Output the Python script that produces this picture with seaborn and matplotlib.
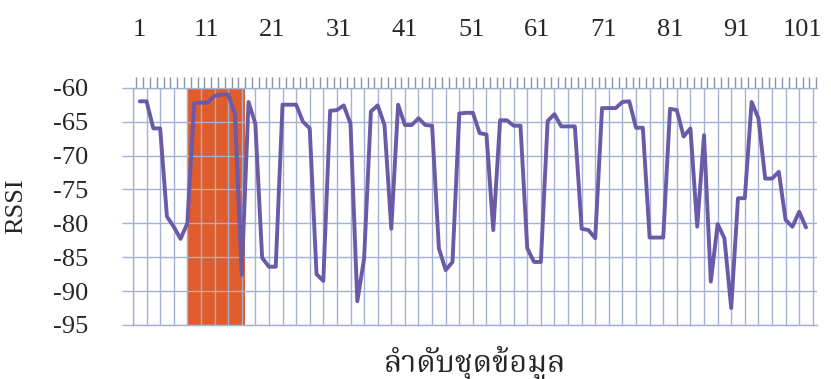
import matplotlib as mpl

mpl.use('Agg')
import numpy as np
import pandas as pd
import matplotlib.pyplot as plt
import seaborn as sns
from matplotlib import font_manager

# RSSI, one value per sample (1..99)
rssi = [-62, -62, -66, -66, -79, -80.5, -82.3, -80, -62.3, -62.2,
        -62.2, -61.2, -61, -61, -63.8, -87.6, -62.1, -65.3, -85.1, -86.4,
        -86.4, -62.5, -62.5, -62.5, -65, -66, -87.5, -88.5, -63.4, -63.3,
        -62.6, -65.3, -91.5, -85.2, -63.5, -62.6, -65.5, -80.8, -62.5, -65.5,
        -65.5, -64.5, -65.5, -65.6, -83.7, -86.9, -85.7, -63.8, -63.7, -63.7,
        -66.7, -66.9, -81, -64.8, -64.8, -65.6, -65.6, -83.7, -85.7, -85.7,
        -64.9, -63.9, -65.7, -65.7, -65.7, -80.8, -81, -82.2, -63, -63,
        -63, -62.1, -62, -65.9, -65.9, -82.1, -82.1, -82.1, -63.1, -63.3,
        -67.2, -66, -80.5, -67, -88.6, -80.1, -82.2, -92.5, -76.3, -76.3,
        -62.1, -64.5, -73.4, -73.4, -72.4, -79.5, -80.5, -78.3, -80.6]
sample = list(range(1, len(rssi) + 1))

top_labels = [1, 11, 21, 31, 41, 51, 61, 71, 81, 91, 101]
y_ticks = [-95, -90, -85, -80, -75, -70, -65, -60]
highlight = (8.15, 16.5)

xlabel = 'ลำดับชุดข้อมูล'
ylabel = 'RSSI'


def thai_font():
    for name in ['Noto Serif Thai', 'Noto Sans Thai', 'Loma', 'Garuda', 'Norasi']:
        try:
            return font_manager.findfont(name, fallback_to_default=False)
        except Exception:
            pass
    try:
        from fontTools.ttLib import TTFont
    except ImportError:
        return None
    for path in sorted(font_manager.findSystemFonts()):
        try:
            cmap = TTFont(path, fontNumber=0, lazy=True).getBestCmap()
            if cmap and 0x0E25 in cmap and 0x0E33 in cmap:
                return path
        except Exception:
            continue
    return None


sns.set_style('white')
plt.rcParams['font.family'] = ['Liberation Serif', 'DejaVu Serif']
plt.rcParams['axes.unicode_minus'] = False

grid_c = '#a3b2d2'
df = pd.DataFrame({'sample': sample, 'rssi': rssi})

fig = plt.figure(figsize=(8.31, 3.79), dpi=100)
ax = fig.add_axes([0.160, 0.1425, 0.823, 0.626])

ax.axvspan(*highlight, color='#e05c2a', zorder=1, lw=0)
sns.lineplot(data=df, x='sample', y='rssi', ax=ax, color='#6a5aa8',
             linewidth=2.8, zorder=3)

ax.set_xlim(0, 100.6)
ax.set_ylim(-95, -60)
ax.set_axisbelow('line')

# x axis sits on top; gridlines every 2 samples, small ticks per sample
ax.xaxis.tick_top()
ax.set_xticks(np.arange(0, 101, 2))
ax.set_xticks(np.arange(0.5, 101, 1), minor=True)
ax.tick_params(axis='x', which='major', length=0, labeltop=False,
               labelbottom=False)
ax.tick_params(axis='x', which='minor', top=True, bottom=False, length=8,
               width=1, color='#8d93a8', direction='out')
ax.set_yticks(y_ticks)
ax.tick_params(axis='y', length=8, width=1, color=grid_c, pad=24,
               labelsize=19, direction='out', left=True)
ax.grid(True, which='major', color=grid_c, linewidth=1)

for side in ['left', 'top', 'bottom']:
    ax.spines[side].set_color(grid_c)
    ax.spines[side].set_linewidth(1)
ax.spines['right'].set_visible(False)

sec = ax.secondary_xaxis('top', functions=(lambda p: 1 + (p - 1) / 0.975,
                                           lambda v: 1 + (v - 1) * 0.975))
sec.set_xticks(top_labels)
sec.tick_params(length=0, pad=34, labelsize=19)
sec.spines['top'].set_visible(False)

ax.set_xlabel('')
ax.set_ylabel(ylabel, fontsize=19)
ax.yaxis.set_label_coords(-0.155, 0.5)

tf = thai_font()
if tf:
    fp = font_manager.FontProperties(fname=tf, size=22)
    ax.text(0.5, -0.16, xlabel, transform=ax.transAxes, ha='center',
            va='center', fontproperties=fp)
else:
    ax.text(0.5, -0.16, xlabel, transform=ax.transAxes, ha='center',
            va='center', fontsize=22, family=['Noto Sans', 'DejaVu Sans'])

plt.savefig('out.png', dpi=100)
